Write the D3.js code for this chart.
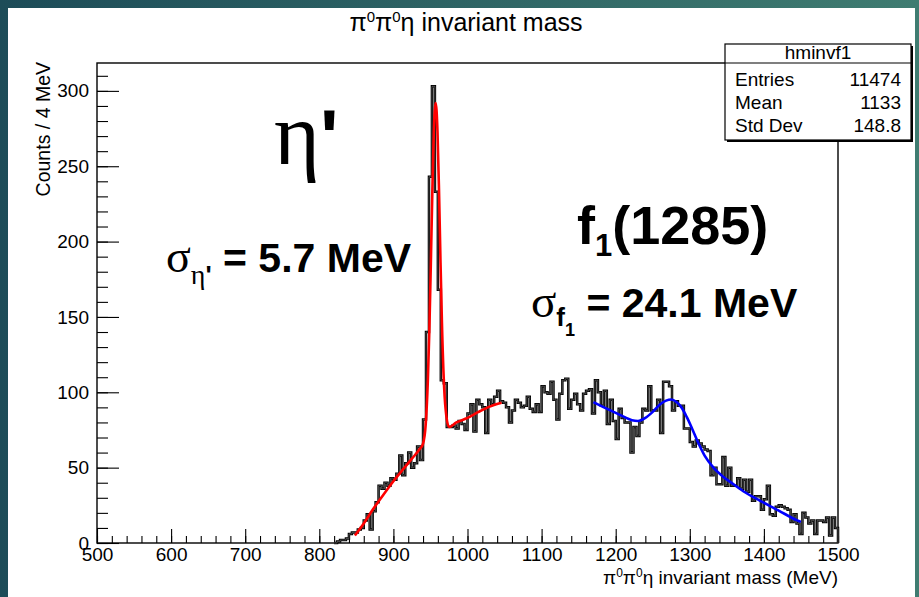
<!DOCTYPE html>
<html>
<head>
<meta charset="utf-8">
<script src="https://cdn.jsdelivr.net/npm/d3@7"></script>
<style>
  html, body { margin: 0; padding: 0; background: #fff; }
  text { font-family: 'Liberation Sans', Arial, sans-serif; }
  .serif { font-family: 'Liberation Serif', 'Times New Roman', serif; }
</style>
</head>
<body>
<div id="chart"></div>
<script>
'use strict'

var width = 919
var height = 597

// histogram: 4 MeV bins starting at 820 MeV (everything below is empty)
var binStart = 820
var binWidth = 4
var counts = [
  0, 1, 2, 2, 3, 6, 7, 7, 9, 10, 15, 19, 9, 21, 27, 38, 36, 40, 38, 43,
  42, 46, 58, 45, 53, 60, 50, 53, 64, 55, 82, 140, 243, 303, 233, 168, 108, 106, 77, 77,
  78, 76, 81, 79, 75, 86, 92, 74, 95, 92, 90, 73, 95, 92, 97, 101, 94, 93, 90, 80,
  88, 95, 93, 90, 91, 97, 89, 87, 92, 87, 104, 100, 99, 107, 95, 82, 99, 108, 109, 89,
  95, 99, 92, 88, 99, 101, 102, 86, 108, 100, 91, 101, 79, 95, 81, 69, 89, 83, 80, 80,
  60, 77, 71, 80, 89, 88, 104, 88, 88, 95, 73, 107, 107, 104, 88, 94, 91, 91, 76, 76,
  67, 64, 68, 66, 64, 62, 61, 45, 50, 39, 39, 57, 38, 50, 38, 38, 43, 36, 42, 34,
  42, 28, 31, 31, 22, 29, 38, 19, 18, 24, 25, 24, 23, 22, 14, 19, 13, 6, 20, 17,
  13, 15, 6, 15, 15, 14, 17, 5, 17, 10
]

// eta' fit (red)
var etaMass = [848, 860, 872, 885, 900, 915, 925, 935, 940, 943.5, 946.5, 948.5, 950.5, 952.5, 954.5, 957, 959.5, 961.5, 963.5, 965.5, 968.5, 971.5, 975, 985, 1000, 1015, 1030, 1046]
var etaFit = [5, 13, 22, 31, 41, 50, 56, 62, 66, 78, 108, 141, 185, 232, 272, 292, 273, 235, 188, 146, 103, 84, 77, 80, 83, 87, 90.5, 93]

// f1(1285) fit (blue)
var f1Mass = [1170, 1180, 1195, 1210, 1222, 1230, 1240, 1250, 1260, 1268, 1275, 1282, 1288, 1296, 1303, 1310, 1320, 1332, 1345, 1359, 1375, 1395, 1420, 1445, 1450]
var f1Fit = [93.5, 91, 87.5, 84, 81.5, 81, 83, 87, 92, 94.5, 95.2, 93.5, 90.5, 83.5, 76, 68, 58, 50, 44, 39, 33.5, 28, 21.5, 15, 14]

var xTicks = [500, 600, 700, 800, 900, 1000, 1100, 1200, 1300, 1400, 1500]
var yTicks = [0, 50, 100, 150, 200, 250, 300]

var statsLabels = ['Entries', 'Mean', 'Std Dev']
var statsValues = ['11474', '1133', '148.8']

var frame = { left: 97, right: 838, top: 63, bottom: 543 }

var svg = d3.select('#chart').append('svg')
  .attr('width', width)
  .attr('height', height)

// slide background
var grad = svg.append('defs').append('linearGradient')
  .attr('id', 'bg')
  .attr('x1', 0).attr('y1', 0).attr('x2', 1).attr('y2', 0)
grad.append('stop').attr('offset', 0).attr('stop-color', '#1d4c58')
grad.append('stop').attr('offset', 1).attr('stop-color', '#3f7c71')
svg.append('rect').attr('width', width).attr('height', height).attr('fill', 'url(#bg)')
svg.append('rect').attr('x', 8).attr('y', 8).attr('width', 907).attr('height', height - 8).attr('fill', '#fff')

var x = d3.scaleLinear().domain([500, 1500]).range([frame.left, frame.right])
var y = d3.scaleLinear().domain([0, 318.5]).range([frame.bottom, frame.top])

// axes, ticks pointing inwards like ROOT
svg.append('g')
  .attr('transform', 'translate(' + frame.left + ',0)')
  .call(d3.axisLeft(y).tickValues(yTicks).tickSizeInner(-22).tickSizeOuter(0).tickPadding(8))
svg.append('g')
  .attr('transform', 'translate(' + frame.left + ',0)')
  .call(d3.axisLeft(y).tickValues(d3.range(0, 311, 10)).tickSizeInner(-11).tickSizeOuter(0).tickFormat(''))

svg.append('g')
  .attr('transform', 'translate(0,' + frame.bottom + ')')
  .call(d3.axisBottom(x).tickValues(xTicks).tickSizeInner(-14).tickSizeOuter(0).tickPadding(5)
    .tickFormat(d3.format('d')))
svg.append('g')
  .attr('transform', 'translate(0,' + frame.bottom + ')')
  .call(d3.axisBottom(x).tickValues(d3.range(500, 1501, 20)).tickSizeInner(-7).tickSizeOuter(0).tickFormat(''))

svg.selectAll('.domain').remove()
svg.selectAll('.tick line').attr('stroke', '#000').attr('stroke-width', 1.1)
svg.selectAll('.tick text').attr('fill', '#000').attr('font-size', 19)
  .attr('font-family', "'Liberation Sans', Arial, sans-serif")

svg.append('rect')
  .attr('x', frame.left).attr('y', frame.top)
  .attr('width', frame.right - frame.left).attr('height', frame.bottom - frame.top)
  .attr('fill', 'none').attr('stroke', '#000').attr('stroke-width', 1.4)

// histogram outline
var pts = counts.map((c, i) => [binStart + i * binWidth, c])
pts.push([1500, counts[counts.length - 1]])
pts.push([1500, 0])
var step = d3.line().x(d => x(d[0])).y(d => y(d[1])).curve(d3.curveStepAfter)
svg.append('path').attr('d', step(pts))
  .attr('fill', 'none').attr('stroke', '#000').attr('stroke-width', 2.5)
svg.append('path').attr('d', step(pts))
  .attr('fill', 'none').attr('stroke', '#777').attr('stroke-width', 0.6)

// fit functions
var smooth = d3.line().x(d => x(d[0])).y(d => y(d[1])).curve(d3.curveMonotoneX)
svg.append('path').attr('d', smooth(d3.zip(etaMass, etaFit)))
  .attr('fill', 'none').attr('stroke', '#ff0000').attr('stroke-width', 2.6)
svg.append('path').attr('d', smooth(d3.zip(f1Mass, f1Fit)))
  .attr('fill', 'none').attr('stroke', '#0000ff').attr('stroke-width', 2.6)

// rich text helper: parts = [text, size, dy, cls, weight]
function rich (g, xPos, yPos, parts, anchor) {
  var t = g.append('text').attr('x', xPos).attr('y', yPos).attr('fill', '#000')
    .attr('text-anchor', anchor || 'start')
  parts.forEach(p => {
    t.append('tspan').text(p[0])
      .attr('font-size', p[1])
      .attr('dy', p[2] || 0)
      .attr('class', p[3] || null)
      .attr('font-weight', p[4] || null)
  })
  return t
}

// titles
rich(svg, 466, 31, [['π', 25], ['0', 15, -9], ['π', 25, 9], ['0', 15, -9], ['η invariant mass', 25, 9]], 'middle')
rich(svg, frame.right, 584, [['π', 19], ['0', 12, -7], ['π', 19, 7], ['0', 12, -7], ['η invariant mass (MeV)', 19, 7]], 'end')
svg.append('text')
  .attr('transform', 'translate(50,' + 62 + ') rotate(-90)')
  .attr('text-anchor', 'end')
  .attr('font-size', 19.5)
  .text('Counts / 4 MeV')

// stats box
var box = { x: 725, y: 44, w: 186, h: 96 }
svg.append('rect').attr('x', box.x + 2).attr('y', box.y + 2).attr('width', box.w).attr('height', box.h).attr('fill', '#000')
svg.append('rect').attr('x', box.x).attr('y', box.y).attr('width', box.w).attr('height', box.h)
  .attr('fill', '#fff').attr('stroke', '#000').attr('stroke-width', 1.2)
svg.append('line').attr('x1', box.x).attr('x2', box.x + box.w).attr('y1', 63).attr('y2', 63)
  .attr('stroke', '#000').attr('stroke-width', 1.2)
svg.append('text').attr('x', box.x + box.w / 2).attr('y', 59).attr('text-anchor', 'middle')
  .attr('font-size', 19).text('hminvf1')
statsLabels.forEach((s, i) => {
  svg.append('text').attr('x', box.x + 10).attr('y', 86 + i * 23).attr('font-size', 19).text(s)
  svg.append('text').attr('x', box.x + box.w - 10).attr('y', 86 + i * 23).attr('font-size', 19)
    .attr('text-anchor', 'end').text(statsValues[i])
})

// annotations
rich(svg, 274, 164, [['η', 88, 0, 'serif']])
rich(svg, 320, 164, [["'", 78, 0, null, 'bold']])

rich(svg, 166, 272, [['σ', 46, 0, 'serif'], ['η', 28, 12, 'serif'], ["'", 26, 0, null, 'bold'], [' = 5.7 MeV', 41, -12, null, 'bold']])

rich(svg, 577, 244, [['f', 54, 0, null, 'bold'], ['1', 31, 12, null, 'bold'], ['(1285)', 54, -12, null, 'bold']])
rich(svg, 531, 317, [['σ', 47, 0, 'serif'], ['f', 26, 9, null, 'bold'], ['1', 18, 10, null, 'bold'], [' = 24.1 MeV', 41, -19, null, 'bold']])
</script>
</body>
</html>
